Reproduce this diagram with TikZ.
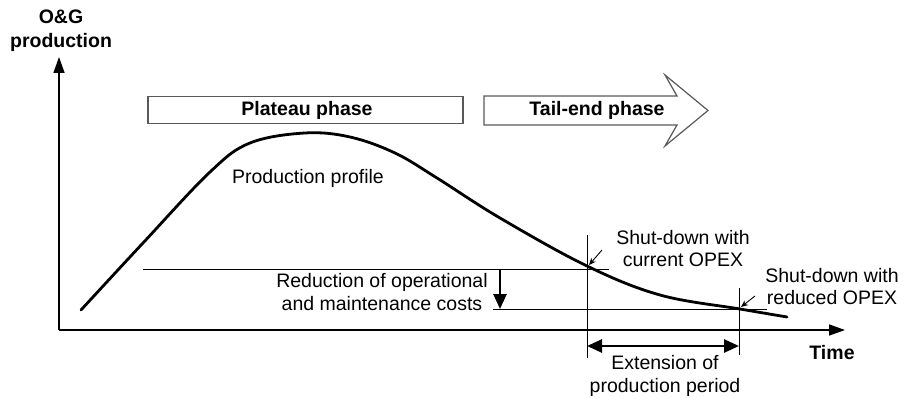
\documentclass[tikz,border=0pt]{standalone}
\usepackage{fontspec}
\setmainfont{Liberation Sans}
\usetikzlibrary{arrows.meta}

\tikzset{
  lbl/.style={inner sep=0pt, align=center, font=\fontsize{19.5}{22.5}\selectfont},
  blbl/.style={lbl, font=\fontsize{19.5}{24.5}\selectfont\bfseries},
  axis/.style={line width=1.5pt, -{Triangle[width=11pt,length=16pt]}},
  thin/.style={line width=0.9pt},
  profile/.style={line width=2.8pt, line cap=round},
  phasebox/.style={draw=black!65, line width=1.2pt, fill=white},
  bigarrow/.style={line width=2.6pt, -{Triangle[width=13pt,length=15pt]}},
  twoway/.style={line width=2.6pt, {Triangle[width=13pt,length=15pt]}-{Triangle[width=13pt,length=15pt]}},
  pointer/.style={line width=0.9pt, -{Stealth[length=7pt,width=6pt]}}
}

\begin{document}
\begin{tikzpicture}[x=1pt, y=-1pt]
\useasboundingbox (0,0) rectangle (904,398);

% axes
\coordinate (O) at (59,330);
\coordinate (ytip) at (59,57);
\coordinate (xtip) at (845,330);
\draw[axis] (O) -- (ytip);
\draw[axis] (O) -- (xtip);
\node[blbl] (ylabel) at (61,30.5) {O\&G\\production};
\node[blbl] (xlabel) at (832,353) {Time};

% phase indicators
\node[phasebox, minimum width=315pt, minimum height=27pt, inner sep=0pt] (plateau) at (305.5,110) {};
\node[blbl] (plateautext) at (307,110) {Plateau phase};
\draw[phasebox] (484,96) -- (677,96) -- (665,75) -- (708,110.5) -- (665,146) -- (677,125) -- (484,125) -- cycle;
\node[blbl] (tailtext) at (597,110) {Tail-end phase};

% production curve
\draw[profile] plot[smooth, tension=0.6] coordinates {
  (81,310) (143,243) (210,172) (250,143) (305,133) (350,137)
  (395,153) (437,178) (500,218) (587,266) (660,295) (740,309) (787,317)};
\node[lbl] (profiletext) at (308,178) {Production profile};

% OPEX levels and shut-down points
\coordinate (h1a) at (143,269);
\coordinate (h1b) at (609,269);
\coordinate (h2a) at (493,309);
\coordinate (h2b) at (767,309);
\draw[thin] (h1a) -- (h1b);
\draw[thin] (h2a) -- (h2b);
\coordinate (v1a) at (587,235);
\coordinate (v1b) at (587,358);
\coordinate (v2a) at (739,288);
\coordinate (v2b) at (739,355);
\draw[thin] (v1a) -- (v1b);
\draw[thin] (v2a) -- (v2b);

% cost reduction
\coordinate (r1) at (500,269);
\coordinate (r2) at (500,309);
\draw[bigarrow] (r1) -- (r2);
\node[lbl] (reduction) at (382,292) {Reduction of operational\\and maintenance costs};

% extension of production
\coordinate (e1) at (587,346);
\coordinate (e2) at (739,346);
\draw[twoway] (e1) -- (e2);
\node[lbl] (extension) at (665,376) {Extension of\\production period};

% shut-down annotations
\node[lbl] (sdcurrent) at (683,248.5) {Shut-down with\\current OPEX};
\node[lbl] (sdreduced) at (832,286.5) {Shut-down with\\reduced OPEX};
\coordinate (s1a) at (602,250);
\coordinate (s1b) at (589,265);
\coordinate (s2a) at (755,296);
\coordinate (s2b) at (741,307);
\draw[pointer] (s1a) -- (s1b);
\draw[pointer] (s2a) -- (s2b);
\end{tikzpicture}
\end{document}
